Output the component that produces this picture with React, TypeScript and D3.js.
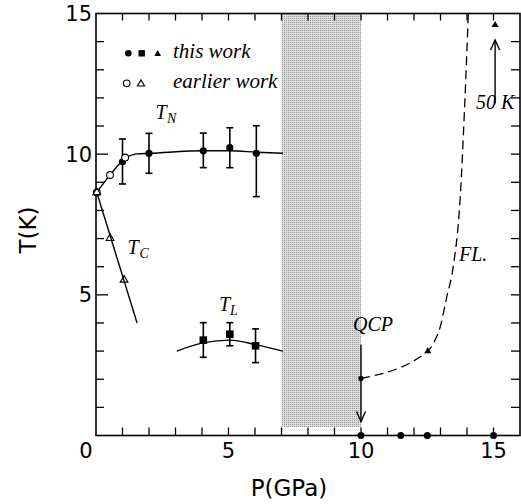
import { useEffect, useRef } from "react";
import * as d3 from "d3";

const WIDTH = 521;
const HEIGHT = 504;

// T_N, this work (filled circles + error bars)
const tnP = [1.0, 2.0, 4.05, 5.05, 6.05];
const tnT = [9.73, 10.03, 10.12, 10.23, 10.03];
const tnLo = [8.94, 9.32, 9.52, 9.52, 8.49];
const tnHi = [10.54, 10.74, 10.75, 10.94, 11.01];

// earlier work (open circles / open triangles)
const tnEarlyP = [0.03, 0.53, 1.1];
const tnEarlyT = [8.64, 9.26, 9.88];
const tcEarlyP = [0.03, 0.53, 1.06];
const tcEarlyT = [8.64, 7.01, 5.53];

// guide lines through the phases
const tnCurveP = [0.03, 0.53, 1.1, 1.55, 2.04, 4.05, 5.06, 6.06, 7.05];
const tnCurveT = [8.65, 9.26, 9.85, 10.01, 10.03, 10.12, 10.12, 10.07, 10.03];
const tcLineP = [0.03, 1.55];
const tcLineT = [8.64, 4.0];

// T_L, this work (filled squares + error bars)
const tlP = [4.05, 5.05, 6.02];
const tlT = [3.39, 3.6, 3.19];
const tlLo = [2.78, 3.19, 2.59];
const tlHi = [4.01, 4.01, 3.79];
const tlCurveP = [3.05, 4.07, 5.05, 6.06, 7.05];
const tlCurveT = [3.0, 3.3, 3.39, 3.22, 3.0];

// Fermi-liquid boundary (dashed)
const flP = [10, 12.52, 12.8, 13.0, 13.23, 13.48, 13.74, 13.92, 14.05];
const flT = [2.03, 3.0, 3.4, 3.9, 4.9, 6.0, 8.4, 11.9, 15];

// points on the axis and filled triangles
const zeroP = [10, 11.5, 12.5, 15];
const flDotP = [10];
const flDotT = [2.03];
const triP = [12.52, 15.06];
const triT = [3.0, 14.59];

// arrows: [P, from T, to T]
const qcpArrow = [10, 3.23, 0.5];
const kArrow = [15.06, 11.81, 14.06];

// shaded region
const shadeP = [7, 10];
const shadeT = [0.3, 15];

const xTickLabels = [0, 5, 10, 15];
const yTickLabels = [5, 10, 15];

const SANS = "'DejaVu Sans', Arial, sans-serif";
const SERIF = "'Liberation Serif', 'Times New Roman', serif";

export default function App() {
  const svgRef = useRef<SVGSVGElement | null>(null);

  useEffect(() => {
    if (!svgRef.current) return;
    const svg = d3.select(svgRef.current);
    svg.selectAll("*").remove();

    const x = d3.scaleLinear().domain([0, 16]).range([96, 520]);
    const y = d3.scaleLinear().domain([0, 15]).range([435.5, 13.5]);

    const defs = svg.append("defs");
    const pat = defs
      .append("pattern")
      .attr("id", "dots")
      .attr("width", 2)
      .attr("height", 2)
      .attr("patternUnits", "userSpaceOnUse");
    pat.append("rect").attr("width", 2).attr("height", 2).attr("fill", "#dcdcdc");
    pat.append("rect").attr("width", 1).attr("height", 1).attr("fill", "#9a9a9a");

    // shaded band
    svg
      .append("rect")
      .attr("x", x(shadeP[0]))
      .attr("y", y(shadeT[1]))
      .attr("width", x(shadeP[1]) - x(shadeP[0]))
      .attr("height", y(shadeT[0]) - y(shadeT[1]))
      .attr("fill", "url(#dots)");

    // ticks
    const ticks = svg.append("g").attr("stroke", "#000").attr("stroke-width", 1.3);
    d3.range(1, 16).forEach((p) => {
      ticks.append("line").attr("x1", x(p)).attr("x2", x(p)).attr("y1", y(0)).attr("y2", y(0) - 8);
      ticks.append("line").attr("x1", x(p)).attr("x2", x(p)).attr("y1", y(15)).attr("y2", y(15) + 7);
    });
    d3.range(1, 15).forEach((t) => {
      const len = t % 5 === 0 ? 12 : 8;
      ticks.append("line").attr("x1", x(0)).attr("x2", x(0) + len).attr("y1", y(t)).attr("y2", y(t));
      ticks.append("line").attr("x1", x(16)).attr("x2", x(16) - 9).attr("y1", y(t)).attr("y2", y(t));
    });

    // frame
    svg
      .append("rect")
      .attr("x", x(0))
      .attr("y", y(15))
      .attr("width", x(16) - x(0))
      .attr("height", y(0) - y(15))
      .attr("fill", "none")
      .attr("stroke", "#000")
      .attr("stroke-width", 1.6);

    // tick labels
    xTickLabels.forEach((v) => {
      svg
        .append("text")
        .attr("x", v === 0 ? x(v) - 10 : x(v))
        .attr("y", 458)
        .attr("text-anchor", "middle")
        .style("font-family", SANS)
        .style("font-size", "21px")
        .text(v);
    });
    yTickLabels.forEach((v) => {
      svg
        .append("text")
        .attr("x", 92)
        .attr("y", y(v))
        .attr("dy", "0.36em")
        .attr("text-anchor", "end")
        .style("font-family", SANS)
        .style("font-size", "21px")
        .text(v);
    });

    // axis titles
    svg
      .append("text")
      .attr("x", 289)
      .attr("y", 496)
      .attr("text-anchor", "middle")
      .style("font-family", SANS)
      .style("font-size", "23px")
      .text("P(GPa)");
    svg
      .append("text")
      .attr("transform", "translate(36,230) rotate(-90)")
      .attr("text-anchor", "middle")
      .style("font-family", SANS)
      .style("font-size", "23px")
      .text("T(K)");

    const line = (ps: number[], ts: number[], curve: d3.CurveFactory) =>
      d3
        .line<number>()
        .x((i) => x(ps[i]))
        .y((i) => y(ts[i]))
        .curve(curve)(d3.range(ps.length));

    // curves
    svg.append("path").attr("d", line(tnCurveP, tnCurveT, d3.curveMonotoneX))
      .attr("fill", "none").attr("stroke", "#000").attr("stroke-width", 1.4);
    svg.append("path").attr("d", line(tcLineP, tcLineT, d3.curveLinear))
      .attr("fill", "none").attr("stroke", "#000").attr("stroke-width", 1.4);
    svg.append("path").attr("d", line(tlCurveP, tlCurveT, d3.curveMonotoneX))
      .attr("fill", "none").attr("stroke", "#000").attr("stroke-width", 1.4);
    svg.append("path").attr("d", line(flP, flT, d3.curveMonotoneX))
      .attr("fill", "none").attr("stroke", "#000").attr("stroke-width", 1.3)
      .attr("stroke-dasharray", "9,5");

    // error bars
    const errorBars = (ps: number[], lo: number[], hi: number[]) => {
      ps.forEach((p, i) => {
        const g = svg.append("g").attr("stroke", "#000").attr("stroke-width", 1.6);
        g.append("line").attr("x1", x(p)).attr("x2", x(p)).attr("y1", y(lo[i])).attr("y2", y(hi[i]));
        [lo[i], hi[i]].forEach((t) =>
          g.append("line").attr("x1", x(p) - 3.5).attr("x2", x(p) + 3.5).attr("y1", y(t)).attr("y2", y(t))
        );
      });
    };
    errorBars(tnP, tnLo, tnHi);
    errorBars(tlP, tlLo, tlHi);

    const tri = (size: number) => d3.symbol().type(d3.symbolTriangle).size(size)();

    // markers
    tnP.forEach((p, i) =>
      svg.append("circle").attr("cx", x(p)).attr("cy", y(tnT[i])).attr("r", 3.6).attr("fill", "#000")
    );
    tnEarlyP.forEach((p, i) =>
      svg.append("circle").attr("cx", x(p)).attr("cy", y(tnEarlyT[i])).attr("r", 3.4)
        .attr("fill", "#fff").attr("stroke", "#000").attr("stroke-width", 1.1)
    );
    tcEarlyP.forEach((p, i) =>
      svg.append("path").attr("d", tri(26)).attr("transform", `translate(${x(p)},${y(tcEarlyT[i])})`)
        .attr("fill", "none").attr("stroke", "#000").attr("stroke-width", 1.1)
    );
    tlP.forEach((p, i) =>
      svg.append("rect").attr("x", x(p) - 3.8).attr("y", y(tlT[i]) - 3.8).attr("width", 7.6).attr("height", 7.6)
        .attr("fill", "#000")
    );
    zeroP.forEach((p) =>
      svg.append("circle").attr("cx", x(p)).attr("cy", y(0)).attr("r", 3.5).attr("fill", "#000")
    );
    flDotP.forEach((p, i) =>
      svg.append("circle").attr("cx", x(p)).attr("cy", y(flDotT[i])).attr("r", 2.6).attr("fill", "#000")
    );
    triP.forEach((p, i) =>
      svg.append("path").attr("d", tri(22)).attr("transform", `translate(${x(p)},${y(triT[i])})`)
        .attr("fill", "#000")
    );

    // arrows with open heads
    const arrow = ([p, t0, t1]: number[]) => {
      const ax = x(p);
      const y0 = y(t0);
      const y1 = y(t1);
      const dir = y1 > y0 ? 1 : -1;
      const g = svg.append("g").attr("stroke", "#000").attr("stroke-width", 1.4).attr("fill", "none");
      g.append("line").attr("x1", ax).attr("x2", ax).attr("y1", y0).attr("y2", y1);
      g.append("path").attr("d", `M${ax - 4.5},${y1 - dir * 10}L${ax},${y1}L${ax + 4.5},${y1 - dir * 10}`);
    };
    arrow(qcpArrow);
    arrow(kArrow);

    // legend
    const leg = svg.append("g");
    leg.append("circle").attr("cx", 128.3).attr("cy", 53.3).attr("r", 3.3).attr("fill", "#000");
    leg.append("rect").attr("x", 138.5).attr("y", 50.1).attr("width", 6.4).attr("height", 6.4).attr("fill", "#000");
    leg.append("path").attr("d", tri(20)).attr("transform", "translate(157.7,54)").attr("fill", "#000");
    leg.append("circle").attr("cx", 126.7).attr("cy", 83.3).attr("r", 3.3)
      .attr("fill", "#fff").attr("stroke", "#000").attr("stroke-width", 1.1);
    leg.append("path").attr("d", tri(22)).attr("transform", "translate(141,84)")
      .attr("fill", "none").attr("stroke", "#000").attr("stroke-width", 1.1);

    const label = (tx: number, ty: number, s: string, size = 20) =>
      svg
        .append("text")
        .attr("x", tx)
        .attr("y", ty)
        .style("font-family", SERIF)
        .style("font-style", "italic")
        .style("font-size", `${size}px`)
        .text(s);

    label(173, 57.5, "this work", 21);
    label(173, 87.5, "earlier work", 21);
    label(155.5, 118.5, "T");
    label(167, 122.5, "N", 14);
    label(127.5, 254, "T");
    label(139.5, 258, "C", 14);
    label(219, 311, "T");
    label(230, 315, "L", 14);
    label(353, 330.5, "QCP");
    label(459, 260.5, "FL.");
    label(476, 108.5, "50 K");
  }, []);

  return (
    <div style={{ position: "absolute", left: 0, top: 0 }}>
      <svg ref={svgRef} width={WIDTH} height={HEIGHT} style={{ display: "block", background: "#fff" }} />
    </div>
  );
}
